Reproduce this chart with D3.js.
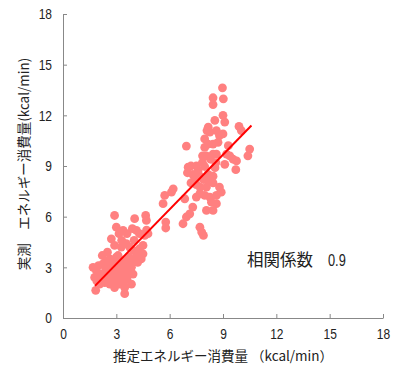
<!DOCTYPE html>
<html>
<head>
<meta charset="utf-8">
<script src="https://cdn.jsdelivr.net/npm/d3@7"></script>
<style>
  body { margin: 0; background: #fff; }
  svg text { font-family: "Liberation Sans", "Noto Sans CJK JP", sans-serif; fill: #222; }
  .jp { font-family: "Noto Sans CJK JP", sans-serif; }
</style>
</head>
<body>
<svg id="chart" width="400" height="369"></svg>
<script>
const estimated = [
  8.97, 8.44, 8.44, 9.02, 9.0, 9.1, 8.54, 8.17, 8.26, 8.63, 8.8, 9.0, 9.9, 10.03, 6.94,
  7.97, 7.97, 8.16, 8.44, 8.72, 8.44, 8.07, 8.63, 9.2, 9.38, 9.1, 9.57, 9.76, 10.5, 10.4,
  9.72, 7.04, 7.2, 7.5, 7.84, 7.97, 7.6, 7.0, 7.3, 7.7, 8.16, 8.44, 7.9, 8.26, 8.44,
  7.2, 7.5, 7.7, 8.07, 8.8, 8.9, 7.7, 7.97, 7.5, 8.26, 8.63, 8.35, 8.63, 8.07, 8.44,
  7.3, 7.13, 6.94, 6.75, 7.7, 7.8, 7.9, 6.85, 6.2, 6.1, 5.72, 5.63, 5.78, 5.78, 4.78,
  4.69, 4.65, 4.03, 3.9, 4.13, 4.3, 4.6, 2.9, 3.0, 3.38, 3.15, 2.72, 2.9, 3.28, 3.56,
  3.75, 3.94, 4.3, 4.5, 4.4, 4.13, 2.21, 2.25, 2.63, 3.0, 3.1, 3.38, 3.56, 3.85, 3.94,
  3.85, 1.69, 1.88, 2.06, 1.78, 2.25, 2.53, 2.63, 2.8, 3.0, 3.2, 3.38, 3.56, 2.35, 2.63,
  2.9, 3.2, 3.28, 3.47, 3.47, 1.84, 2.06, 2.8, 2.0, 2.4, 2.7, 3.0, 3.3, 3.5, 3.7,
  3.9, 2.5, 2.9, 3.2, 3.6, 3.4, 2.2, 1.9, 4.0, 3.6, 3.3, 2.5, 4.5, 4.7, 8.3,
  8.6, 7.85, 8.55, 9.3, 8.1, 7.4, 3.1, 2.4, 3.8, 4.2
];
const measured = [
  13.63, 13.04, 12.64, 12.98, 12.0, 11.6, 11.7, 11.3, 11.0, 11.1, 10.8, 10.9, 11.34, 11.1, 10.18,
  10.6, 10.1, 10.3, 10.3, 10.4, 9.7, 9.6, 9.7, 9.7, 9.6, 9.1, 9.4, 9.3, 10.0, 9.6,
  8.78, 8.93, 9.0, 9.0, 9.2, 8.97, 8.74, 8.6, 8.5, 8.4, 8.5, 8.4, 8.2, 8.1, 8.0,
  8.0, 7.9, 7.75, 7.75, 7.75, 7.45, 7.36, 7.26, 7.16, 7.16, 7.26, 6.86, 6.77, 6.37, 6.37,
  6.57, 6.17, 5.98, 5.58, 5.38, 5.09, 4.89, 7.06, 7.65, 7.45, 7.26, 6.77, 5.68, 5.33, 4.99,
  5.78, 6.07, 5.88, 5.29, 5.19, 4.99, 4.89, 6.07, 5.38, 5.19, 4.99, 4.69, 4.3, 4.2, 4.4,
  4.2, 4.0, 4.1, 3.8, 3.5, 3.7, 3.7, 3.2, 3.5, 3.6, 3.2, 3.4, 3.2, 3.0, 2.6,
  2.0, 3.0, 2.8, 2.6, 2.4, 2.4, 2.5, 2.8, 3.0, 2.7, 2.8, 2.6, 2.7, 2.1, 2.0,
  1.8, 2.0, 2.3, 1.8, 1.44, 1.64, 2.0, 2.4, 3.1, 2.9, 3.3, 3.1, 3.0, 2.9, 3.6,
  3.4, 2.2, 2.2, 2.4, 2.3, 2.0, 2.6, 2.2, 4.6, 5.0, 4.6, 3.9, 4.3, 5.2, 9.4,
  9.2, 9.6, 8.9, 10.2, 11.1, 8.2, 3.7, 3.3, 2.9, 3.3
];
// regression line end points
const fitX = [1.8, 10.6];
const fitY = [1.9, 11.4];
const ticks = [0, 3, 6, 9, 12, 15, 18];
const xTitle = "推定エネルギー消費量 （kcal/min）";
const yTitle = "実測　エネルギー消費量(kcal/min)";
const note = "相関係数";
const noteValue = "0.9";

const svg = d3.select("#chart");
const margin = { left: 63, right: 17, top: 14, bottom: 51 };
const width = 400, height = 369;
const narrow = 0.8; // condensed digits like the original

const x = d3.scaleLinear().domain([0, 18]).range([margin.left, width - margin.right]);
const y = d3.scaleLinear().domain([0, 18]).range([height - margin.bottom, margin.top]);

const xAxis = svg.append("g")
  .attr("transform", `translate(0,${y(0)})`)
  .call(d3.axisBottom(x).tickValues(ticks).tickSizeInner(-4).tickSizeOuter(0).tickPadding(8));
const yAxis = svg.append("g")
  .attr("transform", `translate(${x(0)},0)`)
  .call(d3.axisLeft(y).tickValues(ticks).tickSizeInner(-4).tickSizeOuter(0).tickPadding(10));

[xAxis, yAxis].forEach((g) => {
  g.select(".domain").attr("stroke", "#888");
  g.selectAll(".tick line").attr("stroke", "#888");
  g.selectAll(".tick text")
    .attr("font-size", 15)
    .attr("font-family", null)
    .attr("fill", "#222");
});
xAxis.selectAll(".tick text").attr("dy", "0.9em").attr("transform", `scale(${narrow},1)`);
yAxis.selectAll(".tick text")
  .attr("x", -11 / narrow)
  .attr("transform", `scale(${narrow},1)`);

// points
svg.append("g")
  .selectAll("circle")
  .data(estimated.map((v, i) => [v, measured[i]]))
  .enter()
  .append("circle")
  .attr("cx", (d) => x(d[0]))
  .attr("cy", (d) => y(d[1]))
  .attr("r", 4.4)
  .attr("fill", "#ff8080");

// fit line
svg.append("line")
  .attr("x1", x(fitX[0])).attr("y1", y(fitY[0]))
  .attr("x2", x(fitX[1])).attr("y2", y(fitY[1]))
  .attr("stroke", "#ff0000")
  .attr("stroke-width", 2);

// note
svg.append("text")
  .attr("class", "jp")
  .attr("x", 247)
  .attr("y", 266)
  .attr("font-size", 16.5)
  .text(note);
svg.append("text")
  .attr("transform", `translate(328,266) scale(${narrow},1)`)
  .attr("font-size", 16)
  .text(noteValue);

// axis titles
svg.append("text")
  .attr("class", "jp")
  .attr("x", 223)
  .attr("y", 361)
  .attr("text-anchor", "middle")
  .attr("font-size", 13.5)
  .attr("fill", "#333")
  .text(xTitle);

svg.append("text")
  .attr("class", "jp")
  .attr("transform", `translate(29,${164}) rotate(-90)`)
  .attr("text-anchor", "middle")
  .attr("font-size", 13.5)
  .attr("fill", "#333")
  .text(yTitle);
</script>
</body>
</html>
